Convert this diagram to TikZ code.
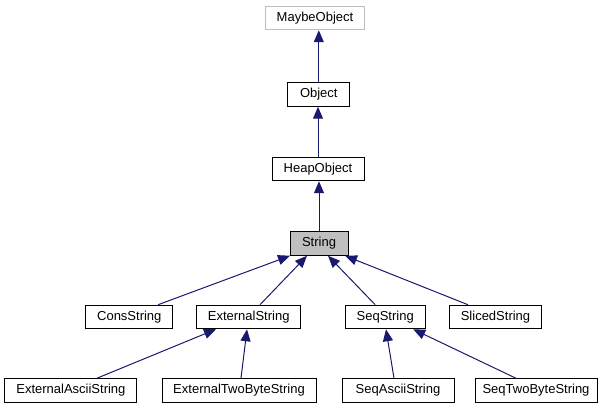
\documentclass[tikz,border=0pt]{standalone}
\usepackage{fontspec}
\setmainfont{Liberation Sans}
\usetikzlibrary{arrows.meta}
\definecolor{edgeblue}{HTML}{191970}
\definecolor{boxgray}{HTML}{BFBFBF}
\tikzset{
  ClassBox/.style={draw=black,line width=1pt,rectangle,inner sep=0pt,
    minimum height=23.5pt,font=\fontsize{13pt}{15pt}\selectfont},
  EdgeStyle/.style={edgeblue,line width=1pt,
    -{Triangle[length=12pt,width=10pt]}}
}
\begin{document}
\begin{tikzpicture}[x=1pt,y=-1pt]
\useasboundingbox (0,0) rectangle (611,411);

\node[ClassBox,draw=boxgray,minimum width=99pt] (maybe) at (315,18) {MaybeObject};
\node[ClassBox,minimum width=62pt] (obj) at (318.8,94.5) {Object};
\node[ClassBox,minimum width=92pt] (heap) at (318,169) {HeapObject};
\node[ClassBox,fill=boxgray,minimum width=58pt] (str) at (319,243.5) {String};
\node[ClassBox,minimum width=87pt] (cons) at (129.3,317) {ConsString};
\node[ClassBox,minimum width=104pt] (ext) at (248.7,317) {ExternalString};
\node[ClassBox,minimum width=80pt] (seq) at (385.2,317) {SeqString};
\node[ClassBox,minimum width=92pt] (sliced) at (495.5,317) {SlicedString};
\node[ClassBox,minimum width=132pt] (extascii) at (70.9,390.5) {ExternalAsciiString};
\node[ClassBox,minimum width=154pt] (exttwo) at (239,390.5) {ExternalTwoByteString};
\node[ClassBox,minimum width=112pt] (seqascii) at (398,390.5) {SeqAsciiString};
\node[ClassBox,minimum width=122pt] (seqtwo) at (536,390.5) {SeqTwoByteString};

\draw[EdgeStyle] (obj.north) -- (obj.north |- maybe.south);
\draw[EdgeStyle] (heap.north) -- (heap.north |- obj.south);
\draw[EdgeStyle] (str.north) -- (str.north |- heap.south);
\draw[EdgeStyle] ([xshift=28.7pt]cons.north) -- ([xshift=-29pt]str.south);
\draw[EdgeStyle] ([xshift=11.3pt]ext.north) -- ([xshift=-12pt]str.south);
\draw[EdgeStyle] ([xshift=-10pt]seq.north) -- ([xshift=9pt]str.south);
\draw[EdgeStyle] ([xshift=-27.5pt]sliced.north) -- ([xshift=26pt]str.south);
\draw[EdgeStyle] ([xshift=26pt]extascii.north) -- ([xshift=-32.7pt]ext.south);
\draw[EdgeStyle] ([xshift=2pt]exttwo.north) -- ([xshift=-1.7pt]ext.south);
\draw[EdgeStyle] ([xshift=-4pt]seqascii.north) -- ([xshift=0.8pt]seq.south);
\draw[EdgeStyle] ([xshift=-20pt]seqtwo.north) -- ([xshift=28pt]seq.south);
\end{tikzpicture}
\end{document}
